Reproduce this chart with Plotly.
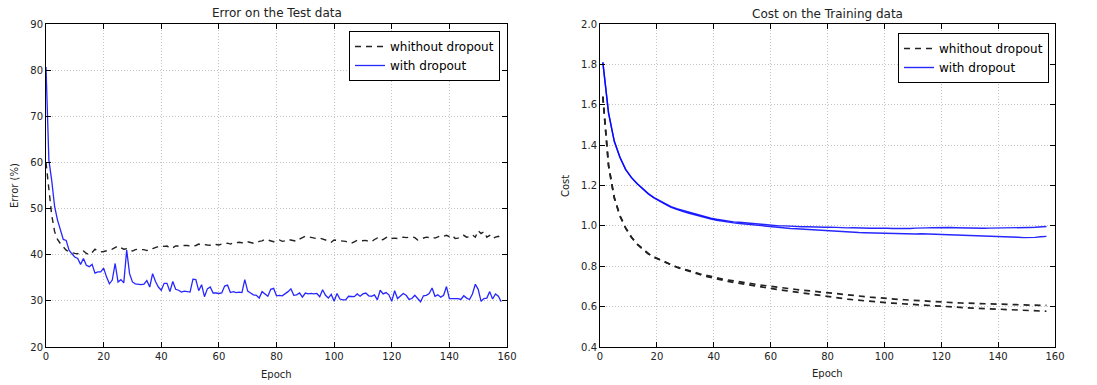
import plotly.graph_objects as go

# ---------------- data ----------------
err_epochs = list(range(0, 159))

err_without_dropout = [
    60.0, 54.0, 48.5, 45.0, 43.3, 42.4, 41.6, 41.0, 40.6, 40.4,
    40.3, 40.2, 40.5, 40.8, 40.3, 40.0, 40.5, 41.2, 40.8, 40.6,
    40.7, 40.8, 41.0, 41.2, 41.6, 41.9, 41.5, 41.2, 41.3, 41.0,
    40.8, 41.1, 41.2, 41.1, 41.1, 40.9, 41.0, 41.3, 41.6, 41.8,
    41.9, 41.8, 41.9, 41.4, 41.5, 41.9, 41.9, 42.0, 42.0, 42.0,
    41.9, 41.8, 42.0, 42.3, 42.1, 42.2, 42.1, 42.1, 42.0, 42.2,
    42.1, 42.3, 42.4, 42.5, 42.3, 42.6, 42.6, 42.7, 42.6, 42.6,
    42.8, 42.6, 42.5, 42.6, 42.9, 43.0, 43.3, 43.2, 43.0, 42.8,
    43.0, 43.2, 42.9, 43.0, 43.3, 43.2, 43.1, 42.9, 43.4, 43.7,
    44.0, 43.9, 43.8, 43.6, 43.5, 43.6, 43.4, 43.3, 43.0, 42.7,
    43.2, 43.1, 43.0, 43.0, 42.9, 42.6, 42.5, 42.8, 43.1, 43.0,
    43.0, 43.1, 42.9, 42.8, 43.3, 43.6, 43.1, 43.3, 43.7, 43.9,
    43.5, 43.6, 43.5, 43.7, 43.8, 43.7, 43.8, 43.9, 43.7, 43.2,
    43.4, 43.6, 43.8, 43.7, 43.8, 43.6, 43.9, 44.1, 44.0, 44.2,
    43.9, 44.2, 43.5, 43.6, 44.0, 44.2, 43.8, 43.9, 44.3, 43.8,
    45.2, 44.6, 45.0, 43.8, 44.2, 43.5, 43.8, 44.0, 43.5,
]

err_with_dropout = [
    80.7, 60.5, 56.0, 50.4, 47.5, 45.3, 43.3, 43.1, 41.0, 40.2,
    39.5, 39.2, 37.9, 39.2, 37.7, 37.4, 37.9, 36.0, 36.3, 36.3,
    37.1, 35.2, 33.7, 34.5, 38.1, 34.1, 34.6, 33.9, 41.0, 35.9,
    34.1, 33.7, 33.6, 33.5, 33.6, 34.4, 33.0, 35.9, 34.2, 33.0,
    32.3, 33.8, 33.8, 32.0, 34.2, 32.5, 32.3, 31.9, 32.1, 32.0,
    31.9, 34.7, 34.6, 32.2, 33.5, 30.9, 32.6, 33.0, 31.7, 31.7,
    31.6, 31.7, 33.2, 33.4, 31.8, 32.0, 31.8, 31.9, 31.8, 34.6,
    32.1, 31.7, 31.3, 31.2, 30.6, 32.0, 31.5, 31.0, 32.5, 32.7,
    31.1, 31.2, 31.1, 31.5, 32.0, 32.6, 31.2, 31.3, 31.7, 30.8,
    31.7, 31.5, 31.6, 31.5, 31.6, 30.9, 32.4, 31.2, 30.6, 31.4,
    29.9, 31.6, 30.4, 30.2, 30.2, 31.0, 31.0, 30.9, 31.5, 31.0,
    31.5, 31.7, 31.1, 31.0, 31.3, 30.2, 32.3, 31.5, 31.8, 31.3,
    29.9, 32.2, 30.5, 31.0, 31.6, 31.2, 30.3, 30.5, 31.2, 30.5,
    29.8, 31.1, 31.2, 31.6, 32.8, 31.0, 31.3, 30.8, 31.2, 33.1,
    30.5, 30.5, 30.5, 30.5, 30.3, 31.1, 30.6, 30.3, 31.5, 33.6,
    32.5, 29.9, 30.5, 30.6, 32.0, 30.4, 31.5, 31.0, 29.8,
]

cost_epochs = list(range(1, 158, 2))

cost_without_dropout_a = [
    1.64, 1.30, 1.14, 1.05, 0.99, 0.945, 0.91, 0.885, 0.862, 0.845,
    0.832, 0.818, 0.806, 0.796, 0.788, 0.779, 0.771, 0.763, 0.756, 0.749,
    0.743, 0.737, 0.732, 0.727, 0.722, 0.718, 0.714, 0.710, 0.706, 0.702,
    0.699, 0.695, 0.692, 0.688, 0.685, 0.682, 0.679, 0.676, 0.672, 0.668,
    0.665, 0.662, 0.659, 0.656, 0.653, 0.651, 0.649, 0.647, 0.645, 0.642,
    0.640, 0.638, 0.636, 0.634, 0.632, 0.630, 0.628, 0.626, 0.624, 0.623,
    0.622, 0.620, 0.619, 0.618, 0.617, 0.615, 0.614, 0.613, 0.612, 0.612,
    0.611, 0.610, 0.609, 0.609, 0.608, 0.607, 0.607, 0.606, 0.606,
]

cost_without_dropout_b = [
    1.64, 1.30, 1.14, 1.05, 0.99, 0.945, 0.91, 0.885, 0.862, 0.845,
    0.832, 0.818, 0.805, 0.795, 0.786, 0.776, 0.768, 0.759, 0.751, 0.744,
    0.737, 0.731, 0.725, 0.720, 0.715, 0.710, 0.705, 0.701, 0.696, 0.692,
    0.688, 0.684, 0.680, 0.676, 0.672, 0.668, 0.664, 0.660, 0.655, 0.650,
    0.647, 0.643, 0.640, 0.637, 0.634, 0.631, 0.628, 0.626, 0.624, 0.621,
    0.619, 0.617, 0.615, 0.613, 0.611, 0.609, 0.607, 0.605, 0.603, 0.601,
    0.599, 0.598, 0.596, 0.595, 0.594, 0.593, 0.592, 0.590, 0.589, 0.588,
    0.587, 0.586, 0.585, 0.584, 0.583, 0.581, 0.580, 0.578, 0.577,
]

cost_with_dropout_a = [
    1.81, 1.56, 1.42, 1.34, 1.28, 1.24, 1.21, 1.185, 1.16, 1.14,
    1.125, 1.11, 1.095, 1.085, 1.077, 1.068, 1.061, 1.052, 1.046, 1.038,
    1.033, 1.028, 1.025, 1.020, 1.018, 1.015, 1.013, 1.010, 1.008, 1.004,
    1.003, 1.000, 1.000, 0.998, 0.998, 0.996, 0.996, 0.994, 0.995, 0.993,
    0.994, 0.992, 0.992, 0.990, 0.991, 0.989, 0.990, 0.988, 0.989, 0.987,
    0.988, 0.987, 0.986, 0.988, 0.987, 0.989, 0.988, 0.990, 0.991, 0.992,
    0.994, 0.992, 0.991, 0.990, 0.991, 0.989, 0.990, 0.988, 0.989, 0.989,
    0.990, 0.989, 0.990, 0.989, 0.991, 0.992, 0.993, 0.995, 0.997,
]

cost_with_dropout_b = [
    1.81, 1.56, 1.42, 1.34, 1.28, 1.24, 1.21, 1.183, 1.158, 1.138,
    1.121, 1.106, 1.092, 1.081, 1.072, 1.064, 1.056, 1.048, 1.041, 1.034,
    1.028, 1.023, 1.019, 1.015, 1.012, 1.009, 1.006, 1.002, 0.999, 0.996,
    0.993, 0.991, 0.989, 0.987, 0.986, 0.984, 0.982, 0.980, 0.978, 0.977,
    0.976, 0.973, 0.972, 0.970, 0.968, 0.967, 0.966, 0.965, 0.964, 0.963,
    0.963, 0.962, 0.962, 0.961, 0.961, 0.960, 0.961, 0.960, 0.960, 0.961,
    0.960, 0.958, 0.957, 0.956, 0.955, 0.955, 0.954, 0.953, 0.952, 0.951,
    0.949, 0.947, 0.946, 0.944, 0.942, 0.941, 0.943, 0.946, 0.948,
]

x_ticks = [0, 20, 40, 60, 80, 100, 120, 140, 160]
err_ticks = [20, 30, 40, 50, 60, 70, 80, 90]
cost_ticks = [0.4, 0.6, 0.8, 1.0, 1.2, 1.4, 1.6, 1.8, 2.0]

# ---------------- figure ----------------
W, H = 1097, 385
FONT = "DejaVu Sans"
TXT = "#222222"
DASH = "6px,5px"
BLUE = "rgba(0,0,255,0.85)"
BLACK = "#222222"

fig = go.Figure()

fig.add_trace(go.Scatter(x=err_epochs, y=err_without_dropout, mode="lines",
                         name="whithout dropout", legend="legend",
                         line=dict(color=BLACK, width=1.4, dash=DASH),
                         xaxis="x", yaxis="y"))
fig.add_trace(go.Scatter(x=err_epochs, y=err_with_dropout, mode="lines",
                         name="with dropout", legend="legend",
                         line=dict(color=BLUE, width=1.3),
                         xaxis="x", yaxis="y"))

fig.add_trace(go.Scatter(x=cost_epochs, y=cost_without_dropout_a, mode="lines",
                         name="whithout dropout", legend="legend2",
                         line=dict(color=BLACK, width=1.7, dash=DASH),
                         xaxis="x2", yaxis="y2"))
fig.add_trace(go.Scatter(x=cost_epochs, y=cost_without_dropout_b, mode="lines",
                         name="whithout dropout", legend="legend2", showlegend=False,
                         line=dict(color=BLACK, width=1.7, dash=DASH),
                         xaxis="x2", yaxis="y2"))
fig.add_trace(go.Scatter(x=cost_epochs, y=cost_with_dropout_a, mode="lines",
                         name="with dropout", legend="legend2",
                         line=dict(color=BLUE, width=1.4),
                         xaxis="x2", yaxis="y2"))
fig.add_trace(go.Scatter(x=cost_epochs, y=cost_with_dropout_b, mode="lines",
                         name="with dropout", legend="legend2", showlegend=False,
                         line=dict(color=BLUE, width=1.4),
                         xaxis="x2", yaxis="y2"))

def px_x(p):
    return p / W

def px_y(p):
    return 1 - p / H

axis_common = dict(
    showline=True, linecolor="black", linewidth=1, mirror="ticks",
    ticks="inside", ticklen=5, tickcolor="black", tickwidth=1,
    showgrid=True, gridcolor="#c4c4c4", griddash="1px,2px", gridwidth=1,
    zeroline=False, automargin=False,
    tickfont=dict(family=FONT, size=10, color=TXT),
)

ydom = [px_y(347), px_y(24)]

fig.update_layout(
    width=W, height=H,
    margin=dict(l=0, r=0, t=0, b=0, autoexpand=False),
    paper_bgcolor="white", plot_bgcolor="white",
    font=dict(family=FONT, color=TXT),
    xaxis=dict(domain=[px_x(46), px_x(507)], range=[0, 160], tickvals=x_ticks,
               anchor="y", **axis_common),
    yaxis=dict(domain=ydom, range=[20, 90], tickvals=err_ticks,
               anchor="x", **axis_common),
    xaxis2=dict(domain=[px_x(600), px_x(1055)], range=[0, 160], tickvals=x_ticks,
                anchor="y2", **axis_common),
    yaxis2=dict(domain=ydom, range=[0.4, 2.0], tickvals=cost_ticks, tickformat=".1f",
                anchor="x2", **axis_common),
    legend=dict(x=px_x(500), y=px_y(31), xanchor="right", yanchor="top",
                bordercolor="black", borderwidth=1, bgcolor="white",
                font=dict(family=FONT, size=12, color="black")),
    legend2=dict(x=px_x(1049), y=px_y(33), xanchor="right", yanchor="top",
                 bordercolor="black", borderwidth=1, bgcolor="white",
                 font=dict(family=FONT, size=12, color="black")),
    showlegend=True,
)

ann_font = dict(family=FONT, size=10, color=TXT)
title_font = dict(family=FONT, size=12, color=TXT)
annotations = [
    dict(text="Error on the Test data", x=px_x(276.5), y=px_y(13), font=title_font),
    dict(text="Cost on the Training data", x=px_x(827.5), y=px_y(14), font=title_font),
    dict(text="Epoch", x=px_x(276.5), y=px_y(374), font=ann_font),
    dict(text="Epoch", x=px_x(827.5), y=px_y(373), font=ann_font),
    dict(text="Error (%)", x=px_x(15), y=px_y(186), font=ann_font, textangle=-90),
    dict(text="Cost", x=px_x(566), y=px_y(186), font=ann_font, textangle=-90),
]
for a in annotations:
    a.update(xref="paper", yref="paper", showarrow=False,
             xanchor="center", yanchor="middle")
fig.update_layout(annotations=annotations)

fig.write_html(
    "out.html",
    config={"displayModeBar": False},
    post_script="document.body.style.margin='0';document.body.style.overflow='hidden';",
)
